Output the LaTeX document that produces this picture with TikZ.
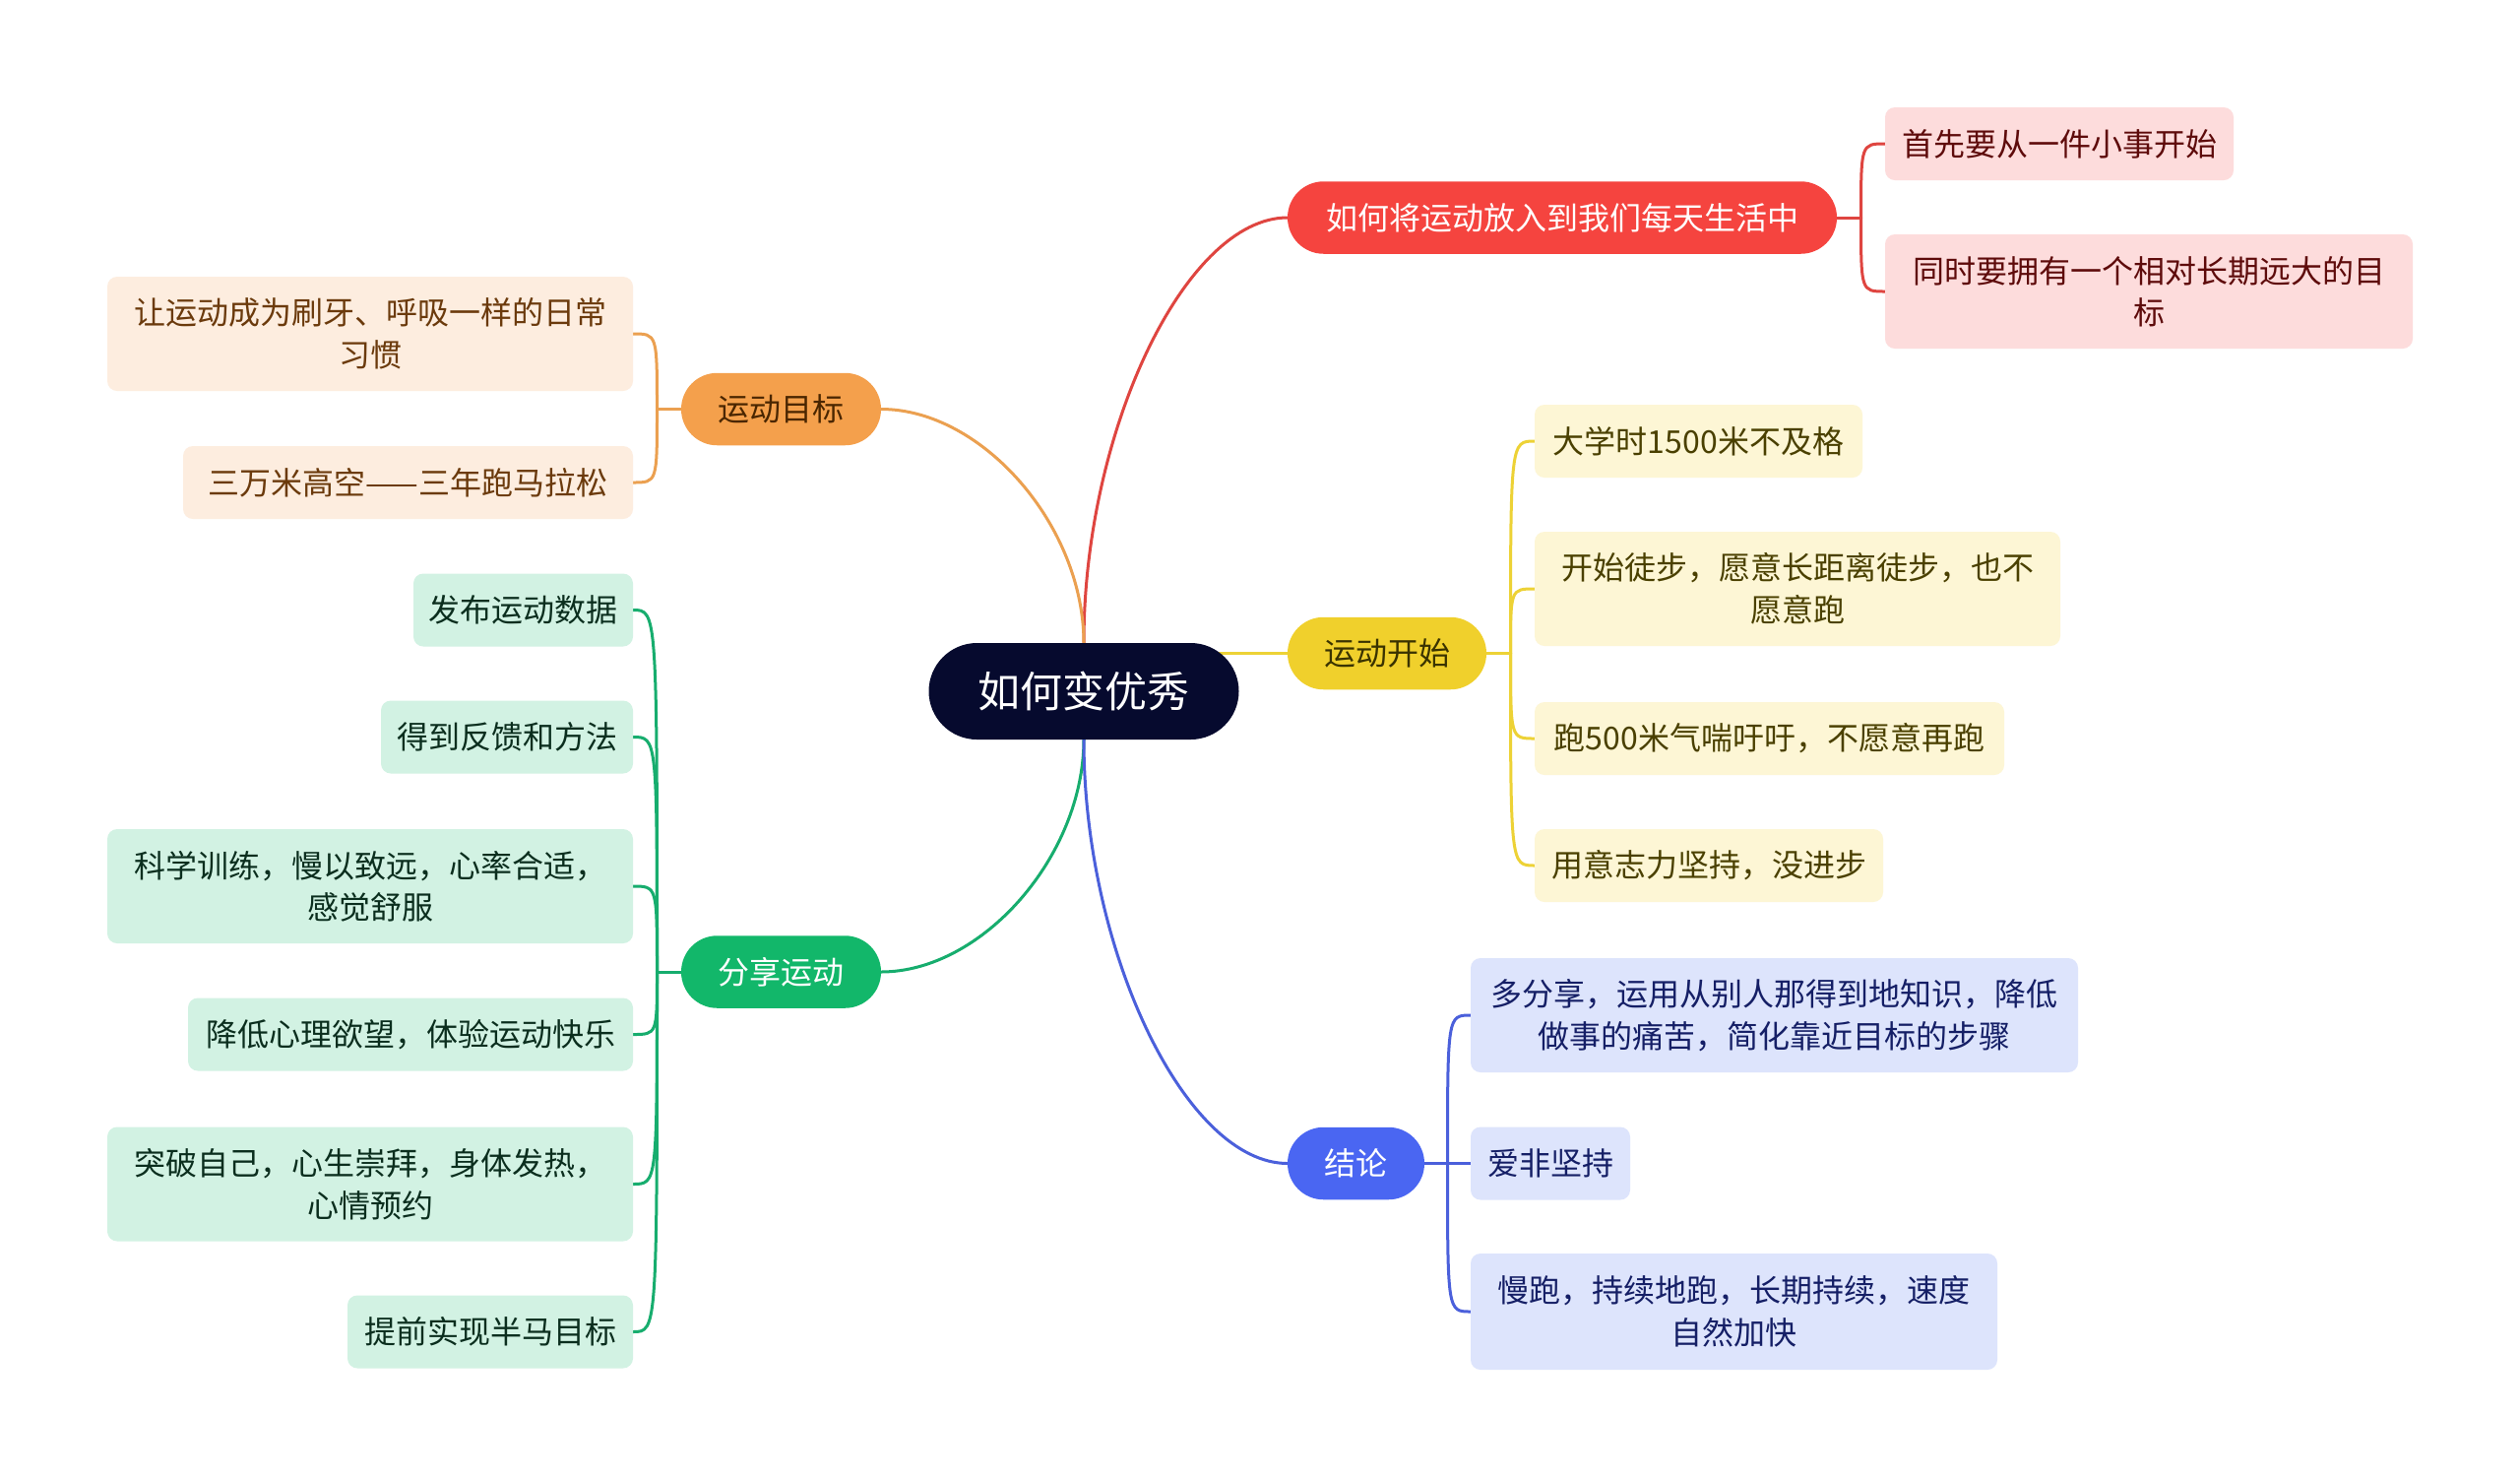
\documentclass[tikz,border=0pt]{standalone}
\usepackage{fontspec}
\newfontfamily\cjk{Noto Sans CJK SC}
\usetikzlibrary{calc}
\pgfdeclarelayer{bg}
\pgfsetlayers{bg,main}
\definecolor{rootc}{HTML}{060A2E}
\definecolor{redc}{HTML}{F5443F}
\definecolor{redl}{HTML}{FDDCDC}
\definecolor{redt}{HTML}{5E0B0B}
\definecolor{redln}{HTML}{DF4540}
\definecolor{orgc}{HTML}{F4A04C}
\definecolor{orgl}{HTML}{FDEDDF}
\definecolor{orgt}{HTML}{6B3A0C}
\definecolor{orgn}{HTML}{4A2600}
\definecolor{orgln}{HTML}{EBA050}
\definecolor{yelc}{HTML}{F0D02C}
\definecolor{yell}{HTML}{FDF6D5}
\definecolor{yelt}{HTML}{4A4000}
\definecolor{yeln}{HTML}{3A3300}
\definecolor{yelln}{HTML}{EDD236}
\definecolor{grnc}{HTML}{12B76A}
\definecolor{grnl}{HTML}{D2F2E3}
\definecolor{grnt}{HTML}{0B2E1E}
\definecolor{grnln}{HTML}{17AD6E}
\definecolor{bluc}{HTML}{4A66F2}
\definecolor{blul}{HTML}{DDE4FC}
\definecolor{blut}{HTML}{151F66}
\definecolor{bluln}{HTML}{4B60DB}
\begin{document}
\begin{tikzpicture}[x=0.5pt,y=-0.5pt,
  every node/.style={inner sep=0pt, outer sep=0pt},
  txt/.style={font=\cjk\fontsize{16pt}{21.25pt}\selectfont, align=center},
  rootbox/.style={fill=rootc, text=white, rounded corners=24.5pt, minimum width=157.5pt, minimum height=49pt, font=\cjk\fontsize{21.5pt}{26pt}\selectfont},
  pill/.style={txt, rounded corners=18.3pt, minimum height=36.75pt},
  leaf/.style={txt, rounded corners=5pt, minimum height=37pt},
  tall/.style={minimum height=58pt},
  conn/.style={line width=1.5pt, line cap=round}
]
\useasboundingbox (0,0) rectangle (2560,1501);

% root
\node[rootbox] (root) at (1101,702) {如何变优秀};

% level 1
\node[pill, fill=redc, text=white, minimum width=279pt] (red) at (1587,221) {如何将运动放入到我们每天生活中};
\node[pill, fill=orgc, text=orgn, minimum width=101.5pt] (org) at (793.5,415.5) {运动目标};
\node[pill, fill=yelc, text=yeln, minimum width=101pt] (yel) at (1409,663.5) {运动开始};
\node[pill, fill=grnc, text=white, minimum width=101.5pt] (grn) at (793.5,987) {分享运动};
\node[pill, fill=bluc, text=white, minimum width=69.5pt] (blu) at (1377.5,1181.5) {结论};

% red children
\node[leaf, fill=redl, text=redt, minimum width=177pt] (rc1) at (2092,146) {首先要从一件小事开始};
\node[leaf, tall, fill=redl, text=redt, minimum width=268pt] (rc2) at (2183,296) {同时要拥有一个相对长期远大的目\\标};

% orange children
\node[leaf, tall, fill=orgl, text=orgt, minimum width=267pt] (oc1) at (376,339) {让运动成为刷牙、呼吸一样的日常\\习惯};
\node[leaf, fill=orgl, text=orgt, minimum width=228.5pt] (oc2) at (414.5,490) {三万米高空——三年跑马拉松};

% yellow children
\node[leaf, fill=yell, text=yelt, minimum width=166.5pt] (yc1) at (1725.5,448) {大学时1500米不及格};
\node[leaf, tall, fill=yell, text=yelt, minimum width=267pt] (yc2) at (1826,598) {开始徒步，愿意长距离徒步，也不\\愿意跑};
\node[leaf, fill=yell, text=yelt, minimum width=238.5pt] (yc3) at (1797.5,750) {跑500米气喘吁吁，不愿意再跑};
\node[leaf, fill=yell, text=yelt, minimum width=177pt] (yc4) at (1736,879) {用意志力坚持，没进步};

% green children
\node[leaf, fill=grnl, text=grnt, minimum width=111.5pt] (gc1) at (531.5,619.5) {发布运动数据};
\node[leaf, fill=grnl, text=grnt, minimum width=128pt] (gc2) at (515,748.5) {得到反馈和方法};
\node[leaf, tall, fill=grnl, text=grnt, minimum width=267pt] (gc3) at (376,900) {科学训练，慢以致远，心率合适，\\感觉舒服};
\node[leaf, fill=grnl, text=grnt, minimum width=226pt] (gc4) at (417,1050.5) {降低心理欲望，体验运动快乐};
\node[leaf, tall, fill=grnl, text=grnt, minimum width=267pt] (gc5) at (376,1202.5) {突破自己，心生崇拜，身体发热，\\心情预约};
\node[leaf, fill=grnl, text=grnt, minimum width=145pt] (gc6) at (498,1352.5) {提前实现半马目标};

% blue children
\node[leaf, tall, fill=blul, text=blut, minimum width=308.5pt] (bc1) at (1802.5,1031) {多分享，运用从别人那得到地知识，降低\\做事的痛苦，简化靠近目标的步骤};
\node[leaf, fill=blul, text=blut, minimum width=81pt] (bc2) at (1575,1181.5) {爱非坚持};
\node[leaf, tall, fill=blul, text=blut, minimum width=267.5pt, minimum height=59pt] (bc3) at (1761.5,1332) {慢跑，持续地跑，长期持续，速度\\自然加快};

\begin{pgfonlayer}{bg}
  \fill[white] (0,0) rectangle (2560,1501);
  % root to level 1
  \coordinate (mR) at ($(root.north)!0.5!(red.west)$);
  \coordinate (mO) at ($(root.north)!0.5!(org.east)$);
  \coordinate (mG) at ($(root.south)!0.5!(grn.east)$);
  \coordinate (mB) at ($(root.south)!0.5!(blu.west)$);
  \draw[conn, redln] (root.north) .. controls (root.north |- mR) and (mR |- red.west) .. (red.west);
  \draw[conn, orgln] (root.north) .. controls (root.north |- mO) and (mO |- org.east) .. (org.east);
  \draw[conn, grnln] (root.south) .. controls (root.south |- mG) and (mG |- grn.east) .. (grn.east);
  \draw[conn, bluln] (root.south) .. controls (root.south |- mB) and (mB |- blu.west) .. (blu.west);
  \draw[conn, yelln] (root.center |- yel.west) -- (yel.west);

  % junctions
  \coordinate (rj) at ($(red.east)+(24.5,0)$);
  \coordinate (oj) at ($(org.west)+(-24.5,0)$);
  \coordinate (yj) at ($(yel.east)+(24.5,0)$);
  \coordinate (gj) at ($(grn.west)+(-24.5,0)$);
  \coordinate (bj) at ($(blu.east)+(23.5,0)$);

  \draw[conn, redln] (red.east) -- (rj);
  \foreach \c in {rc1,rc2}
    \draw[conn, redln] (rj) .. controls (rj |- \c.west) and (rj |- \c.west) .. (\c.west);
  \draw[conn, orgln] (org.west) -- (oj);
  \foreach \c in {oc1,oc2}
    \draw[conn, orgln] (oj) .. controls (oj |- \c.east) and (oj |- \c.east) .. (\c.east);
  \draw[conn, yelln] (yel.east) -- (yj);
  \foreach \c in {yc1,yc2,yc3,yc4}
    \draw[conn, yelln] (yj) .. controls (yj |- \c.west) and (yj |- \c.west) .. (\c.west);
  \draw[conn, grnln] (grn.west) -- (gj);
  \foreach \c in {gc1,gc2,gc3,gc4,gc5,gc6}
    \draw[conn, grnln] (gj) .. controls (gj |- \c.east) and (gj |- \c.east) .. (\c.east);
  \draw[conn, bluln] (blu.east) -- (bj);
  \foreach \c in {bc1,bc2,bc3}
    \draw[conn, bluln] (bj) .. controls (bj |- \c.west) and (bj |- \c.west) .. (\c.west);
\end{pgfonlayer}
\end{tikzpicture}
\end{document}
